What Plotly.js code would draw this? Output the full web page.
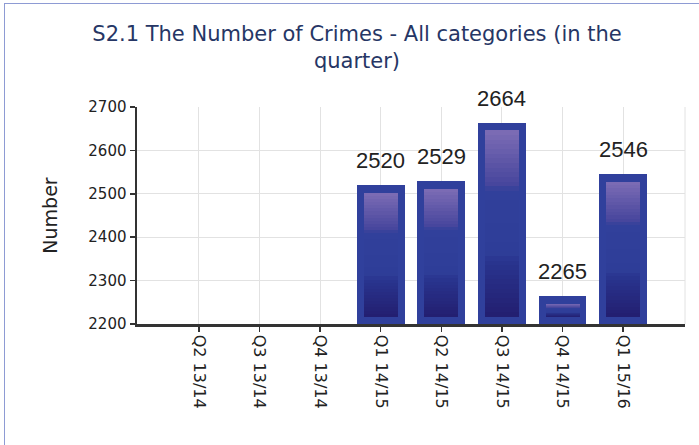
<!DOCTYPE html>
<html><head><meta charset="utf-8">
<script src="https://cdn.plot.ly/plotly-3.0.1.min.js"></script>
<style>
html,body{margin:0;padding:0;background:#fff;}
#wrap{position:relative;width:699px;height:445px;overflow:hidden;}
#chart{width:699px;height:445px;}
#frame{position:absolute;left:4px;top:3px;width:720px;height:470px;border-left:1px solid #8e9bd4;border-top:1px solid #8e9bd4;pointer-events:none;}
</style>
</head><body><div id="wrap"><div id="chart"></div><div id="frame"></div></div>
<script>
// ---- data ----
const categories = ["Q2 13/14","Q3 13/14","Q4 13/14","Q1 14/15","Q2 14/15","Q3 14/15","Q4 14/15","Q1 15/16"];
const crimes = [null, null, null, 2520, 2529, 2664, 2265, 2546];
const yTickVals = [2200, 2300, 2400, 2500, 2600, 2700];
const chartTitle = "S2.1 The Number of Crimes - All categories (in the<br>quarter)";
const yTitle = "Number";

// ---- style ----
const yMin = 2200, yMax = 2700;
const unitsPerPx = (yMax - yMin) / 217;
const insetTop = 8 * unitsPerPx, insetBottom = 7 * unitsPerPx;
const outerColor = '#30409c';
const stops = [[0,[125,109,181]],[0.30,[69,68,156]],[0.32,[49,64,155]],[0.66,[46,61,152]],[0.70,[41,53,143]],[1,[35,30,112]]];
function colorAt(t){
  for(let i=0;i<stops.length-1;i++){
    const a=stops[i], b=stops[i+1];
    if(t>=a[0] && t<=b[0]){
      const f=(t-a[0])/(b[0]-a[0]);
      const c=a[1].map((v,j)=>Math.round(v+(b[1][j]-v)*f));
      return 'rgb('+c.join(',')+')';
    }
  }
  return 'rgb('+stops[stops.length-1][1].join(',')+')';
}

const traces = [{
  type:'bar', x:categories, y:crimes, name:'Number',
  width:0.79, marker:{color:outerColor, line:{width:0}},
  hoverinfo:'x+y', showlegend:false
}];
const N = 40;
for(let k=0;k<N;k++){
  const bases=[], lens=[];
  crimes.forEach(v=>{
    if(v===null){bases.push(null);lens.push(null);return;}
    const top=v-insetTop, bot=yMin+insetBottom, h=top-bot;
    bases.push(top-(k+1)*h/N);
    lens.push(h/N*1.08);
  });
  traces.push({type:'bar', x:categories, y:lens, base:bases, width:0.56,
    marker:{color:colorAt((k+0.5)/N), line:{width:0}}, hoverinfo:'skip', showlegend:false});
}

const annotations = categories.map((c,i)=> crimes[i]===null ? null : ({
  x:c, y:crimes[i], text:String(crimes[i]), showarrow:false,
  yanchor:'bottom', yshift:10,
  font:{family:'Liberation Sans, Arial, sans-serif', size:22, color:'#222'}
})).filter(a=>a);

const layout = {
  width:699, height:445,
  margin:{l:137, r:14, t:107, b:121, pad:0},
  paper_bgcolor:'#fff', plot_bgcolor:'#fff',
  barmode:'overlay', bargap:0,
  title:{text:chartTitle, x:357/699, xref:'container', xanchor:'center', y:1-41/445, yref:'container', yanchor:'bottom',
    font:{family:'DejaVu Sans, sans-serif', size:21, color:'#263665'}},
  xaxis:{type:'category', range:[-1.02, 8.02], tickangle:90,
    showgrid:true, gridcolor:'#e2e2e2', gridwidth:1,
    showline:true, linecolor:'#333', linewidth:2.5,
    ticks:'outside', ticklen:5, tickcolor:'#333', tickwidth:1.5,
    tickfont:{family:'DejaVu Sans, sans-serif', size:16, color:'#222'}, fixedrange:true},
  yaxis:{range:[yMin,yMax], tickvals:yTickVals, ticktext:yTickVals.map(String),
    showgrid:true, gridcolor:'#e2e2e2', gridwidth:1, zeroline:false,
    showline:true, linecolor:'#333', linewidth:2.5,
    ticks:'outside', ticklen:5, tickcolor:'#333', tickwidth:1.5,
    tickfont:{family:'DejaVu Sans, sans-serif', size:15, color:'#222'},
    title:{text:yTitle, standoff:26, font:{family:'DejaVu Sans, sans-serif', size:19, color:'#222'}},
    fixedrange:true},
  shapes:[{type:'line', xref:'paper', yref:'paper', x0:1, x1:1, y0:0, y1:1, line:{color:'#e2e2e2', width:1}}],
  annotations:annotations
};
Plotly.newPlot('chart', traces, layout, {displayModeBar:false, staticPlot:true});
</script></body></html>
